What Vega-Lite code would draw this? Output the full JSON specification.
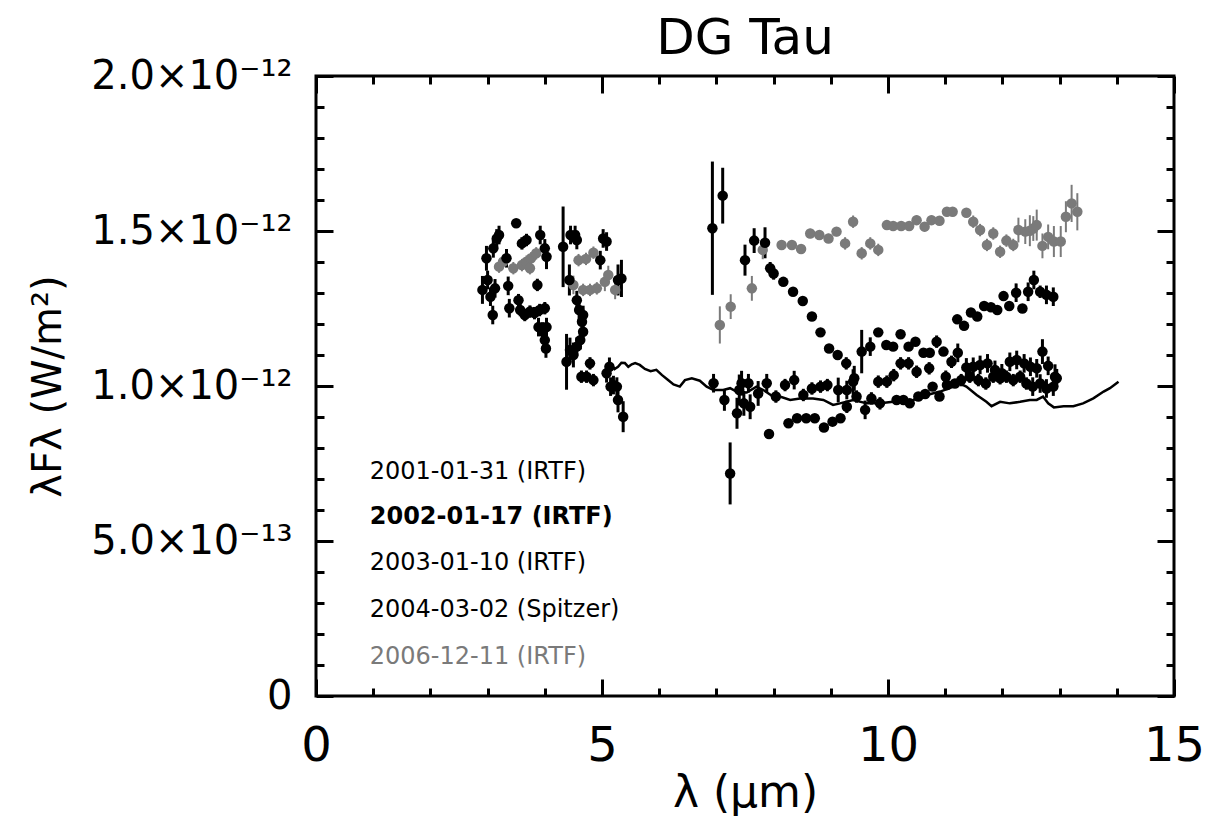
{
  "$schema": "https://vega.github.io/schema/vega-lite/v6.json",
  "width": 858,
  "height": 620,
  "autosize": {"type": "none"},
  "padding": {"left": 316, "top": 76, "right": 32, "bottom": 127},
  "background": "white",
  "config": {"view": {"stroke": "black", "strokeWidth": 3}, "font": "DejaVu Sans"},
  "title": {"text": "DG Tau", "fontSize": 50, "font": "DejaVu Sans", "fontWeight": "normal", "color": "black", "offset": -8},
  "datasets": {
    "pts": [
      {"s":"2006","x":3.2,"y":1.385,"e":0.02},{"s":"2006","x":3.27,"y":1.401,"e":0.02},{"s":"2006","x":3.45,"y":1.38,"e":0.02},{"s":"2006","x":3.6,"y":1.39,"e":0.02},{"s":"2006","x":3.68,"y":1.401,"e":0.02},{"s":"2006","x":3.74,"y":1.38,"e":0.02},{"s":"2006","x":3.76,"y":1.412,"e":0.02},{"s":"2006","x":3.85,"y":1.428,"e":0.02},{"s":"2006","x":4.5,"y":1.326,"e":0.03},{"s":"2006","x":4.59,"y":1.406,"e":0.02},{"s":"2006","x":4.67,"y":1.31,"e":0.02},{"s":"2006","x":4.72,"y":1.41,"e":0.02},{"s":"2006","x":4.79,"y":1.31,"e":0.02},{"s":"2006","x":4.85,"y":1.43,"e":0.02},{"s":"2006","x":4.91,"y":1.315,"e":0.02},{"s":"2006","x":5.05,"y":1.336,"e":0.03},{"s":"2006","x":5.11,"y":1.358,"e":0.03},{"s":"2006","x":5.23,"y":1.31,"e":0.03},
      {"s":"2006","x":7.06,"y":1.197,"e":0.06},{"s":"2006","x":7.25,"y":1.256,"e":0.04},{"s":"2006","x":7.62,"y":1.315,"e":0.04},{"s":"2006","x":7.81,"y":1.439,"e":0.03},{"s":"2006","x":8.14,"y":1.455,"e":0.015},{"s":"2006","x":8.32,"y":1.455,"e":0.015},{"s":"2006","x":8.48,"y":1.442,"e":0.015},{"s":"2006","x":8.64,"y":1.492,"e":0.015},{"s":"2006","x":8.8,"y":1.487,"e":0.015},{"s":"2006","x":8.96,"y":1.476,"e":0.015},{"s":"2006","x":9.1,"y":1.498,"e":0.015},{"s":"2006","x":9.25,"y":1.46,"e":0.02},{"s":"2006","x":9.39,"y":1.53,"e":0.02},{"s":"2006","x":9.54,"y":1.428,"e":0.02},{"s":"2006","x":9.69,"y":1.46,"e":0.02},{"s":"2006","x":9.83,"y":1.439,"e":0.02},{"s":"2006","x":9.98,"y":1.519,"e":0.015},{"s":"2006","x":10.09,"y":1.516,"e":0.015},{"s":"2006","x":10.23,"y":1.516,"e":0.015},{"s":"2006","x":10.37,"y":1.516,"e":0.015},{"s":"2006","x":10.5,"y":1.535,"e":0.015},{"s":"2006","x":10.64,"y":1.514,"e":0.015},{"s":"2006","x":10.76,"y":1.535,"e":0.015},{"s":"2006","x":10.9,"y":1.533,"e":0.015},{"s":"2006","x":11.03,"y":1.562,"e":0.015},{"s":"2006","x":11.13,"y":1.562,"e":0.015},{"s":"2006","x":11.37,"y":1.559,"e":0.015},{"s":"2006","x":11.49,"y":1.53,"e":0.02},{"s":"2006","x":11.61,"y":1.503,"e":0.02},{"s":"2006","x":11.73,"y":1.455,"e":0.02},{"s":"2006","x":11.84,"y":1.492,"e":0.02},{"s":"2006","x":11.96,"y":1.433,"e":0.02},{"s":"2006","x":12.07,"y":1.469,"e":0.02},{"s":"2006","x":12.19,"y":1.455,"e":0.02},{"s":"2006","x":12.28,"y":1.503,"e":0.04},{"s":"2006","x":12.4,"y":1.498,"e":0.04},{"s":"2006","x":12.48,"y":1.501,"e":0.05},{"s":"2006","x":12.54,"y":1.508,"e":0.04},{"s":"2006","x":12.6,"y":1.519,"e":0.05},{"s":"2006","x":12.7,"y":1.452,"e":0.04},{"s":"2006","x":12.8,"y":1.481,"e":0.04},{"s":"2006","x":12.9,"y":1.466,"e":0.05},{"s":"2006","x":13.02,"y":1.466,"e":0.05},{"s":"2006","x":13.11,"y":1.546,"e":0.05},{"s":"2006","x":13.21,"y":1.589,"e":0.06},{"s":"2006","x":13.31,"y":1.562,"e":0.06},
      {"s":"2001","x":2.98,"y":1.412,"e":0.04},{"s":"2001","x":3.1,"y":1.444,"e":0.03},{"s":"2001","x":3.16,"y":1.476,"e":0.03},{"s":"2001","x":3.2,"y":1.487,"e":0.03},{"s":"2001","x":3.33,"y":1.412,"e":0.03},{"s":"2001","x":3.5,"y":1.525,"e":0.01},{"s":"2001","x":3.6,"y":1.46,"e":0.02},{"s":"2001","x":3.68,"y":1.471,"e":0.02},{"s":"2001","x":3.92,"y":1.487,"e":0.03},{"s":"2001","x":4.0,"y":1.444,"e":0.03},{"s":"2001","x":4.03,"y":1.417,"e":0.04},{"s":"2001","x":4.32,"y":1.449,"e":0.13},{"s":"2001","x":4.45,"y":1.487,"e":0.03},{"s":"2001","x":4.53,"y":1.487,"e":0.03},{"s":"2001","x":4.56,"y":1.471,"e":0.03},{"s":"2001","x":4.97,"y":1.406,"e":0.03},{"s":"2001","x":5.02,"y":1.476,"e":0.03},{"s":"2001","x":5.08,"y":1.466,"e":0.03},{"s":"2001","x":5.28,"y":1.342,"e":0.05},{"s":"2001","x":5.34,"y":1.347,"e":0.06},
      {"s":"2001","x":7.5,"y":1.406,"e":0.05},{"s":"2001","x":7.66,"y":1.469,"e":0.04},{"s":"2001","x":7.85,"y":1.462,"e":0.05},{"s":"2001","x":7.94,"y":1.38,"e":0.02},{"s":"2001","x":8.0,"y":1.363,"e":0.02},{"s":"2001","x":8.17,"y":1.336,"e":0.01},{"s":"2001","x":8.34,"y":1.304,"e":0.01},{"s":"2001","x":8.51,"y":1.274,"e":0.01},{"s":"2001","x":8.67,"y":1.224,"e":0.01},{"s":"2001","x":8.82,"y":1.173,"e":0.01},{"s":"2001","x":8.97,"y":1.121,"e":0.01},{"s":"2001","x":9.12,"y":1.1,"e":0.01},{"s":"2001","x":9.27,"y":1.073,"e":0.02},{"s":"2001","x":9.41,"y":1.025,"e":0.04},{"s":"2001","x":9.54,"y":1.111,"e":0.07},{"s":"2001","x":9.69,"y":1.127,"e":0.03},{"s":"2001","x":9.83,"y":1.173,"e":0.01},{"s":"2001","x":9.97,"y":1.132,"e":0.01},{"s":"2001","x":10.09,"y":1.127,"e":0.01},{"s":"2001","x":10.22,"y":1.167,"e":0.01},{"s":"2001","x":10.36,"y":1.127,"e":0.01},{"s":"2001","x":10.48,"y":1.143,"e":0.01},{"s":"2001","x":10.62,"y":1.107,"e":0.01},{"s":"2001","x":10.73,"y":1.107,"e":0.01},{"s":"2001","x":10.85,"y":1.143,"e":0.02},{"s":"2001","x":10.97,"y":1.111,"e":0.01},{"s":"2001","x":11.21,"y":1.215,"e":0.01},{"s":"2001","x":11.33,"y":1.194,"e":0.01},{"s":"2001","x":11.45,"y":1.237,"e":0.01},{"s":"2001","x":11.56,"y":1.224,"e":0.01},{"s":"2001","x":11.68,"y":1.258,"e":0.01},{"s":"2001","x":11.8,"y":1.254,"e":0.01},{"s":"2001","x":11.91,"y":1.245,"e":0.01},{"s":"2001","x":12.02,"y":1.29,"e":0.01},{"s":"2001","x":12.12,"y":1.258,"e":0.01},{"s":"2001","x":12.24,"y":1.301,"e":0.03},{"s":"2001","x":12.35,"y":1.25,"e":0.01},{"s":"2001","x":12.45,"y":1.304,"e":0.03},{"s":"2001","x":12.55,"y":1.342,"e":0.03},{"s":"2001","x":12.66,"y":1.304,"e":0.02},{"s":"2001","x":12.77,"y":1.294,"e":0.03},{"s":"2001","x":12.89,"y":1.288,"e":0.03},
      {"s":"2002","x":2.91,"y":1.31,"e":0.045},{"s":"2002","x":3.0,"y":1.342,"e":0.03},{"s":"2002","x":3.05,"y":1.288,"e":0.03},{"s":"2002","x":3.13,"y":1.315,"e":0.03},{"s":"2002","x":3.36,"y":1.323,"e":0.03},{"s":"2002","x":3.38,"y":1.251,"e":0.03},{"s":"2002","x":3.54,"y":1.277,"e":0.02},{"s":"2002","x":3.57,"y":1.245,"e":0.02},{"s":"2002","x":3.65,"y":1.229,"e":0.02},{"s":"2002","x":3.74,"y":1.24,"e":0.02},{"s":"2002","x":3.82,"y":1.235,"e":0.02},{"s":"2002","x":3.91,"y":1.245,"e":0.02},{"s":"2002","x":4.0,"y":1.251,"e":0.02},{"s":"2002","x":3.87,"y":1.326,"e":0.02},{"s":"2002","x":4.43,"y":1.342,"e":0.05},{"s":"2002","x":4.56,"y":1.277,"e":0.03},{"s":"2002","x":4.6,"y":1.245,"e":0.04},{"s":"2002","x":4.65,"y":1.207,"e":0.03},{"s":"2002","x":4.67,"y":1.229,"e":0.03},
      {"s":"2002","x":6.93,"y":1.509,"e":0.215},{"s":"2002","x":7.11,"y":1.614,"e":0.09},
      {"s":"2002","x":6.95,"y":1.009,"e":0.03},{"s":"2002","x":7.14,"y":0.955,"e":0.035},{"s":"2002","x":7.36,"y":0.912,"e":0.05},{"s":"2002","x":7.4,"y":0.987,"e":0.05},{"s":"2002","x":7.44,"y":1.009,"e":0.04},{"s":"2002","x":7.48,"y":0.944,"e":0.04},{"s":"2002","x":7.56,"y":1.009,"e":0.03},{"s":"2002","x":7.59,"y":0.933,"e":0.04},{"s":"2002","x":7.73,"y":0.976,"e":0.04},{"s":"2002","x":7.88,"y":1.009,"e":0.03},{"s":"2002","x":8.04,"y":0.966,"e":0.02},{"s":"2002","x":8.2,"y":1.003,"e":0.02},{"s":"2002","x":8.36,"y":1.019,"e":0.03},{"s":"2002","x":8.52,"y":0.971,"e":0.02},{"s":"2002","x":8.67,"y":0.992,"e":0.02},{"s":"2002","x":8.82,"y":0.998,"e":0.02},{"s":"2002","x":8.94,"y":1.003,"e":0.02},{"s":"2002","x":9.13,"y":0.987,"e":0.04},{"s":"2002","x":9.28,"y":0.987,"e":0.03},{"s":"2002","x":9.39,"y":1.014,"e":0.04},{"s":"2002","x":9.83,"y":1.014,"e":0.02},{"s":"2002","x":9.98,"y":1.014,"e":0.02},{"s":"2002","x":10.1,"y":1.035,"e":0.02},{"s":"2002","x":10.22,"y":1.073,"e":0.02},{"s":"2002","x":10.36,"y":1.073,"e":0.02},{"s":"2002","x":10.5,"y":1.046,"e":0.02},{"s":"2002","x":10.72,"y":1.057,"e":0.02},{"s":"2002","x":11.01,"y":1.03,"e":0.02},{"s":"2002","x":11.11,"y":1.078,"e":0.02},{"s":"2002","x":11.22,"y":1.107,"e":0.03},{"s":"2002","x":11.37,"y":1.06,"e":0.03},{"s":"2002","x":11.49,"y":1.062,"e":0.03},{"s":"2002","x":11.61,"y":1.068,"e":0.03},{"s":"2002","x":11.74,"y":1.073,"e":0.03},{"s":"2002","x":11.87,"y":1.052,"e":0.03},{"s":"2002","x":11.99,"y":1.041,"e":0.03},{"s":"2002","x":12.13,"y":1.078,"e":0.03},{"s":"2002","x":12.25,"y":1.084,"e":0.03},{"s":"2002","x":12.38,"y":1.073,"e":0.03},{"s":"2002","x":12.49,"y":1.062,"e":0.03},{"s":"2002","x":12.6,"y":1.057,"e":0.03},{"s":"2002","x":12.7,"y":1.111,"e":0.04},{"s":"2002","x":12.8,"y":1.065,"e":0.03},{"s":"2002","x":12.92,"y":1.03,"e":0.04},
      {"s":"2003","x":3.09,"y":1.229,"e":0.03},{"s":"2003","x":3.89,"y":1.19,"e":0.03},{"s":"2003","x":3.96,"y":1.176,"e":0.03},{"s":"2003","x":4.03,"y":1.19,"e":0.03},{"s":"2003","x":4.0,"y":1.148,"e":0.03},{"s":"2003","x":4.02,"y":1.121,"e":0.03},{"s":"2003","x":4.38,"y":1.078,"e":0.09},{"s":"2003","x":4.44,"y":1.116,"e":0.04},{"s":"2003","x":4.5,"y":1.1,"e":0.04},{"s":"2003","x":4.56,"y":1.127,"e":0.03},{"s":"2003","x":4.62,"y":1.148,"e":0.03},{"s":"2003","x":4.67,"y":1.175,"e":0.03},{"s":"2003","x":4.64,"y":1.03,"e":0.02},{"s":"2003","x":4.73,"y":1.03,"e":0.02},{"s":"2003","x":4.79,"y":1.073,"e":0.02},{"s":"2003","x":4.85,"y":1.019,"e":0.02},{"s":"2003","x":5.08,"y":1.041,"e":0.03},{"s":"2003","x":5.13,"y":1.062,"e":0.03},{"s":"2003","x":5.15,"y":0.998,"e":0.03},{"s":"2003","x":5.2,"y":1.003,"e":0.03},{"s":"2003","x":5.26,"y":0.998,"e":0.03},{"s":"2003","x":5.28,"y":0.955,"e":0.04},{"s":"2003","x":5.37,"y":0.901,"e":0.05},
      {"s":"2003","x":7.24,"y":0.718,"e":0.1},{"s":"2003","x":7.92,"y":0.845,"e":0.015},{"s":"2003","x":8.26,"y":0.88,"e":0.01},{"s":"2003","x":8.41,"y":0.896,"e":0.01},{"s":"2003","x":8.57,"y":0.896,"e":0.01},{"s":"2003","x":8.72,"y":0.896,"e":0.01},{"s":"2003","x":8.88,"y":0.866,"e":0.01},{"s":"2003","x":9.03,"y":0.885,"e":0.01},{"s":"2003","x":9.17,"y":0.896,"e":0.01},{"s":"2003","x":9.28,"y":0.933,"e":0.02},{"s":"2003","x":9.45,"y":0.966,"e":0.02},{"s":"2003","x":9.6,"y":0.923,"e":0.03},{"s":"2003","x":9.71,"y":0.96,"e":0.02},{"s":"2003","x":9.86,"y":0.944,"e":0.02},{"s":"2003","x":10.15,"y":0.955,"e":0.01},{"s":"2003","x":10.27,"y":0.955,"e":0.01},{"s":"2003","x":10.38,"y":0.944,"e":0.01},{"s":"2003","x":10.53,"y":0.966,"e":0.01},{"s":"2003","x":10.65,"y":0.974,"e":0.01},{"s":"2003","x":10.78,"y":0.998,"e":0.01},{"s":"2003","x":10.9,"y":0.966,"e":0.01},{"s":"2003","x":11.03,"y":1.003,"e":0.01},{"s":"2003","x":11.17,"y":1.008,"e":0.01},{"s":"2003","x":11.28,"y":1.019,"e":0.02},{"s":"2003","x":11.43,"y":1.03,"e":0.02},{"s":"2003","x":11.58,"y":1.019,"e":0.02},{"s":"2003","x":11.71,"y":1.008,"e":0.02},{"s":"2003","x":11.84,"y":1.03,"e":0.02},{"s":"2003","x":11.96,"y":1.025,"e":0.02},{"s":"2003","x":12.07,"y":1.03,"e":0.02},{"s":"2003","x":12.19,"y":1.019,"e":0.02},{"s":"2003","x":12.31,"y":1.03,"e":0.02},{"s":"2003","x":12.42,"y":1.008,"e":0.02},{"s":"2003","x":12.53,"y":0.998,"e":0.03},{"s":"2003","x":12.66,"y":1.008,"e":0.03},{"s":"2003","x":12.77,"y":0.992,"e":0.03},{"s":"2003","x":12.89,"y":0.998,"e":0.03},{"s":"2003","x":12.95,"y":1.025,"e":0.03}
    ],
    "spitzer": [
      {"x":5.16,"y":1.07},{"x":5.22,"y":1.055},{"x":5.28,"y":1.062},{"x":5.34,"y":1.075},{"x":5.4,"y":1.074},{"x":5.46,"y":1.062},{"x":5.52,"y":1.07},{"x":5.58,"y":1.074},{"x":5.66,"y":1.068},{"x":5.75,"y":1.055},{"x":5.85,"y":1.048},{"x":5.95,"y":1.052},{"x":6.05,"y":1.035},{"x":6.15,"y":1.02},{"x":6.25,"y":1.005},{"x":6.36,"y":0.998},{"x":6.45,"y":1.019},{"x":6.57,"y":1.025},{"x":6.71,"y":1.017},{"x":6.83,"y":0.998},{"x":6.95,"y":0.987},{"x":7.12,"y":0.987},{"x":7.24,"y":0.993},{"x":7.38,"y":0.979},{"x":7.53,"y":0.979},{"x":7.7,"y":0.998},{"x":7.82,"y":0.987},{"x":7.99,"y":0.966},{"x":8.11,"y":0.966},{"x":8.29,"y":0.955},{"x":8.46,"y":0.96},{"x":8.69,"y":0.96},{"x":8.87,"y":0.955},{"x":9.04,"y":0.939},{"x":9.16,"y":0.944},{"x":9.39,"y":0.955},{"x":9.63,"y":0.944},{"x":9.86,"y":0.944},{"x":10.09,"y":0.949},{"x":10.44,"y":0.955},{"x":10.68,"y":0.971},{"x":10.91,"y":0.982},{"x":11.08,"y":0.993},{"x":11.26,"y":1.008},{"x":11.37,"y":0.998},{"x":11.55,"y":0.971},{"x":11.72,"y":0.949},{"x":11.81,"y":0.935},{"x":11.96,"y":0.949},{"x":12.13,"y":0.944},{"x":12.31,"y":0.949},{"x":12.48,"y":0.955},{"x":12.6,"y":0.955},{"x":12.71,"y":0.966},{"x":12.8,"y":0.944},{"x":12.9,"y":0.931},{"x":13.07,"y":0.935},{"x":13.24,"y":0.935},{"x":13.41,"y":0.944},{"x":13.59,"y":0.96},{"x":13.77,"y":0.982},{"x":13.88,"y":0.993},{"x":14.03,"y":1.014}
    ],
    "legend": [
      {"s":"2001","label":"2001-01-31 (IRTF)","x":0.94,"y":0.724},
      {"s":"2002","label":"2002-01-17 (IRTF)","x":0.94,"y":0.578},
      {"s":"2003","label":"2003-01-10 (IRTF)","x":0.94,"y":0.428},
      {"s":"2004","label":"2004-03-02 (Spitzer)","x":0.94,"y":0.277},
      {"s":"2006","label":"2006-12-11 (IRTF)","x":0.94,"y":0.127}
    ]
  },
  "resolve": {"axis": {"x": "independent", "y": "independent"}},
  "layer": [
    {
      "data": {"name": "pts"},
      "transform": [{"filter": "datum.s != '2006'"}],
      "mark": {"type": "errorbar", "thickness": 3},
      "encoding": {
        "x": {"field": "x", "type": "quantitative", "scale": {"domain": [0, 15], "nice": false, "zero": false}, "axis": null},
        "y": {"field": "y", "type": "quantitative", "scale": {"domain": [0, 2], "nice": false, "zero": false}, "axis": null},
        "yError": {"field": "e"},
        "color": {"field": "s", "type": "nominal", "scale": {"domain": ["2001","2002","2003","2004","2006"], "range": ["black","black","black","black","#7a7a7a"]}, "legend": null}
      }
    },
    {
      "data": {"name": "pts"},
      "transform": [{"filter": "datum.s == '2006'"}],
      "mark": {"type": "errorbar", "thickness": 2},
      "encoding": {
        "x": {"field": "x", "type": "quantitative", "scale": {"domain": [0, 15], "nice": false, "zero": false}, "axis": null},
        "y": {"field": "y", "type": "quantitative", "scale": {"domain": [0, 2], "nice": false, "zero": false}, "axis": null},
        "yError": {"field": "e"},
        "color": {"field": "s", "type": "nominal", "legend": null}
      }
    },
    {
      "data": {"name": "pts"},
      "mark": {"type": "point", "filled": true, "shape": "circle", "opacity": 1},
      "encoding": {
        "x": {"field": "x", "type": "quantitative", "scale": {"domain": [0, 15], "nice": false, "zero": false},
          "axis": {"orient": "bottom", "values": [0,1,2,3,4,5,6,7,8,9,10,11,12,13,14,15], "labelExpr": "datum.value % 5 == 0 ? datum.label : ''",
            "tickSize": {"condition": {"test": "datum.value % 5 == 0", "value": -17}, "value": -8},
            "tickWidth": 3, "tickColor": "black", "domain": false, "grid": false,
            "labelFontSize": 48, "labelFont": "DejaVu Sans", "labelColor": "black", "labelPadding": 43, "labelFlush": false, "labelOverlap": false,
            "title": "λ (μm)", "titleFontSize": 44, "titleFont": "DejaVu Sans", "titleFontWeight": "normal", "titleColor": "black", "titlePadding": -8}},
        "y": {"field": "y", "type": "quantitative", "scale": {"domain": [0, 2], "nice": false, "zero": false},
          "axis": {"orient": "left", "values": [0,0.1,0.2,0.3,0.4,0.5,0.6,0.7,0.8,0.9,1.0,1.1,1.2,1.3,1.4,1.5,1.6,1.7,1.8,1.9,2.0],
            "labelExpr": "abs(datum.value*2-round(datum.value*2)) < 0.001 ? (datum.value == 0 ? '0' : (datum.value < 1 ? format(datum.value*10, '.1f') + '×10⁻¹³' : format(datum.value, '.1f') + '×10⁻¹²')) : ''",
            "tickSize": {"condition": {"test": "abs(datum.value*2-round(datum.value*2)) < 0.001", "value": -17}, "value": -8},
            "tickWidth": 3, "tickColor": "black", "domain": false, "grid": false,
            "labelFontSize": 40, "labelFont": "DejaVu Sans", "labelColor": "black", "labelPadding": 41, "labelFlush": false, "labelOverlap": false, "labelBound": false, "labelLimit": 0,
            "title": "λFλ (W/m²)", "titleFontSize": 40, "titleFont": "DejaVu Sans", "titleFontWeight": "normal", "titleColor": "black", "titlePadding": 48}},
        "color": {"field": "s", "type": "nominal", "legend": null},
        "size": {"field": "s", "type": "nominal", "scale": {"domain": ["2001","2002","2003","2004","2006"], "range": [110,110,110,110,40]}, "legend": null}
      }
    },
    {
      "data": {"name": "spitzer"},
      "mark": {"type": "line", "color": "black", "strokeWidth": 2.5},
      "encoding": {
        "x": {"field": "x", "type": "quantitative", "scale": {"domain": [0, 15], "nice": false, "zero": false},
          "axis": {"orient": "top", "values": [0,1,2,3,4,5,6,7,8,9,10,11,12,13,14,15], "labels": false,
            "tickSize": {"condition": {"test": "datum.value % 5 == 0", "value": -17}, "value": -8},
            "tickWidth": 3, "tickColor": "black", "domain": false, "grid": false, "title": null}},
        "y": {"field": "y", "type": "quantitative", "scale": {"domain": [0, 2], "nice": false, "zero": false},
          "axis": {"orient": "right", "values": [0,0.1,0.2,0.3,0.4,0.5,0.6,0.7,0.8,0.9,1.0,1.1,1.2,1.3,1.4,1.5,1.6,1.7,1.8,1.9,2.0], "labels": false,
            "tickSize": {"condition": {"test": "abs(datum.value*2-round(datum.value*2)) < 0.001", "value": -17}, "value": -8},
            "tickWidth": 3, "tickColor": "black", "domain": false, "grid": false, "title": null}}
      }
    },
    {
      "data": {"name": "legend"},
      "transform": [{"filter": "datum.s != '2002'"}],
      "mark": {"type": "text", "align": "left", "baseline": "middle", "fontSize": 24, "font": "DejaVu Sans"},
      "encoding": {
        "x": {"field": "x", "type": "quantitative", "scale": {"domain": [0, 15], "nice": false, "zero": false}, "axis": null},
        "y": {"field": "y", "type": "quantitative", "scale": {"domain": [0, 2], "nice": false, "zero": false}, "axis": null},
        "text": {"field": "label"},
        "color": {"field": "s", "type": "nominal", "legend": null}
      }
    },
    {
      "data": {"name": "legend"},
      "transform": [{"filter": "datum.s == '2002'"}],
      "mark": {"type": "text", "align": "left", "baseline": "middle", "fontSize": 24, "font": "DejaVu Sans", "fontWeight": "bold"},
      "encoding": {
        "x": {"field": "x", "type": "quantitative", "scale": {"domain": [0, 15], "nice": false, "zero": false}, "axis": null},
        "y": {"field": "y", "type": "quantitative", "scale": {"domain": [0, 2], "nice": false, "zero": false}, "axis": null},
        "text": {"field": "label"},
        "color": {"field": "s", "type": "nominal", "legend": null}
      }
    }
  ]
}
